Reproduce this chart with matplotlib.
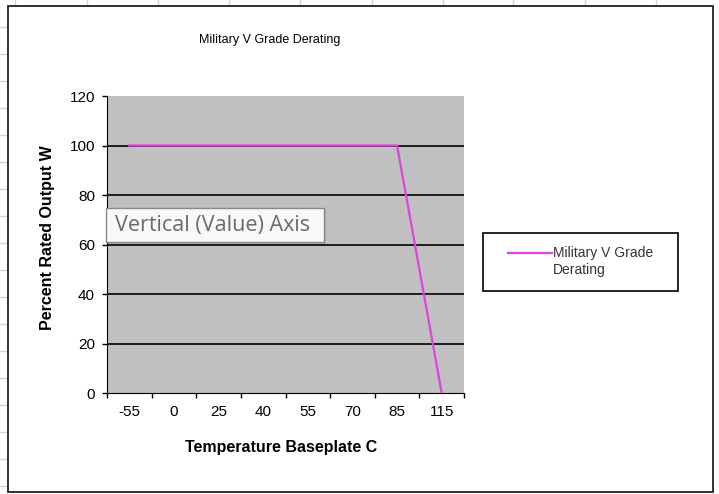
import matplotlib
matplotlib.use("Agg")
import matplotlib.pyplot as plt
from matplotlib.patches import Rectangle
from matplotlib.lines import Line2D

# dane wykresu
temps = ['-55', '0', '25', '40', '55', '70', '85', '115']
output = [100, 100, 100, 100, 100, 100, 100, 0]
y_ticks = [0, 20, 40, 60, 80, 100, 120]

plt.rcParams['font.family'] = ['Liberation Sans', 'DejaVu Sans']

fig = plt.figure(figsize=(7.19, 4.94), dpi=100)
W, H = 719, 494

def fx(px):
    return px / W

def fy(py):
    return 1 - py / H

# siatka arkusza w tle
for xv in [15, 87, 158, 229, 300, 372, 443, 513, 585, 656]:
    fig.add_artist(Line2D([fx(xv), fx(xv)], [fy(0), fy(6)], color='#d4d4d4', lw=1, zorder=-3))
for yv in [27, 54, 81, 108, 135, 162, 189, 216, 243, 270, 297, 324, 351, 378, 405, 432, 459, 486]:
    fig.add_artist(Line2D([fx(0), fx(8)], [fy(yv), fy(yv)], color='#d4d4d4', lw=1, zorder=-3))

# ramka wykresu
fig.add_artist(Rectangle((fx(8), fy(492)), fx(713) - fx(8), fy(6) - fy(492),
                         fill=True, facecolor='white', edgecolor='#222222', lw=1.3, zorder=-2))

ax = fig.add_axes([fx(107), fy(393), fx(464) - fx(107), fy(96) - fy(393)])
ax.set_facecolor('#c0c0c0')
x = list(range(len(temps)))
for yv in y_ticks[1:-1]:
    ax.axhline(yv, color='black', lw=1.2, zorder=1)
ax.plot(x, output, color='#dd44dd', lw=1.6, zorder=3)

ax.set_xlim(-0.5, len(temps) - 0.5)
ax.set_ylim(0, 120)
ax.set_yticks(y_ticks)
ax.set_xticks([i - 0.5 for i in range(len(temps) + 1)])
ax.set_xticklabels([])
ax.set_xticks(x, minor=True)
ax.set_xticklabels(temps, minor=True, fontsize=11)
ax.set_yticklabels([str(v) for v in y_ticks], fontsize=11)
ax.tick_params(axis='x', which='minor', length=0, pad=8.5)
ax.tick_params(axis='x', which='major', length=3.6, width=1, direction='out')
ax.tick_params(axis='y', length=3.6, width=1, direction='out', pad=5)
for s in ['top', 'right']:
    ax.spines[s].set_visible(False)
ax.spines['left'].set_color('black')
ax.spines['bottom'].set_color('black')

ax.set_xlabel('Temperature Baseplate C', fontsize=11.5, fontweight='bold')
ax.set_ylabel('Percent Rated Output W', fontsize=11.5, fontweight='bold')
ax.xaxis.set_label_coords((281 - 107) / 357, (393 - 447) / 297)
ax.yaxis.set_label_coords((47 - 107) / 357, (393 - 238) / 297)
ax.xaxis.label.set_va('center')
ax.yaxis.label.set_va('center')

fig.text(fx(270), fy(40), 'Military V Grade Derating', fontsize=9, ha='center', va='center')

# legenda
fig.add_artist(Rectangle((fx(483), fy(291)), fx(678) - fx(483), fy(233) - fy(291),
                         fill=True, facecolor='white', edgecolor='black', lw=1.2))
fig.add_artist(Line2D([fx(508), fx(552)], [fy(253), fy(253)], color='#dd44dd', lw=1.6))
fig.text(fx(553), fy(253), 'Military V Grade', fontsize=10, ha='left', va='center', color='#333333')
fig.text(fx(553), fy(270), 'Derating', fontsize=10, ha='left', va='center', color='#333333')

# podpowiedz Excela
fig.add_artist(Rectangle((fx(108), fy(244)), fx(326) - fx(108), fy(210) - fy(244),
                         facecolor='#a0a0a0', edgecolor='none', alpha=0.5))
fig.add_artist(Rectangle((fx(106), fy(242)), fx(324) - fx(106), fy(208) - fy(242),
                         facecolor='#f8f8f8', edgecolor='#8a8a8a', lw=1))
fig.text(fx(115), fy(225), 'Vertical (Value) Axis', fontsize=15.5, ha='left', va='center',
         color='#6a6a6a', family=['Open Sans', 'DejaVu Sans'])

fig.savefig('out.png', dpi=100)
